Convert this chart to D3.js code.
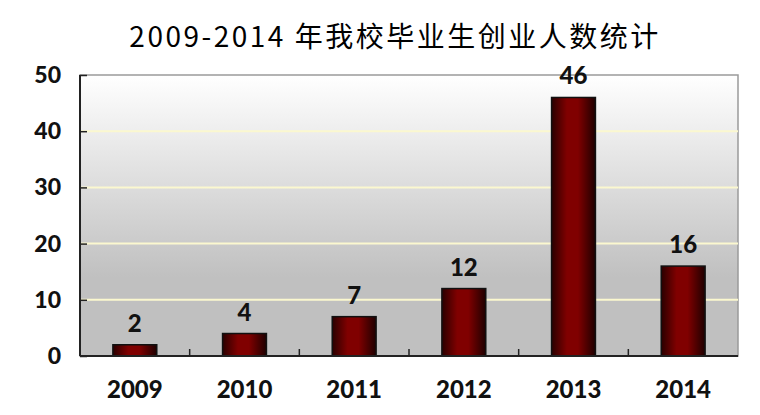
<!DOCTYPE html>
<html>
<head>
<meta charset="utf-8">
<script src="https://cdn.jsdelivr.net/npm/d3@7/dist/d3.min.js"></script>
<style>
  body { margin: 0; background: #fff; }
</style>
</head>
<body>
<div id="drawing"></div>
<script>
var width = 760;
var height = 415;
var margin = {top: 75, right: 22, bottom: 59, left: 80};

var titleText = "2009-2014 年我校毕业生创业人数统计";
var years = ["2009", "2010", "2011", "2012", "2013", "2014"];
var counts = [2, 4, 7, 12, 46, 16];
var yTicks = [0, 10, 20, 30, 40, 50];

var plotW = width - margin.left - margin.right;
var plotH = height - margin.top - margin.bottom;

var svg = d3.select("#drawing").append("svg")
  .attr("width", width)
  .attr("height", height);

var defs = svg.append("defs");

// background fade: white at top, grey lower down
var bg = defs.append("linearGradient")
  .attr("id", "bgGrad")
  .attr("x1", 0).attr("y1", 0).attr("x2", 0).attr("y2", 1);
bg.append("stop").attr("offset", "0%").attr("stop-color", "#ffffff");
bg.append("stop").attr("offset", "72%").attr("stop-color", "#c0c0c0");
bg.append("stop").attr("offset", "100%").attr("stop-color", "#c0c0c0");

// cylinder look for the bars
var barGrad = defs.append("linearGradient")
  .attr("id", "barGrad")
  .attr("x1", 0).attr("y1", 0).attr("x2", 1).attr("y2", 0);
barGrad.append("stop").attr("offset", "0%").attr("stop-color", "#2a0000");
barGrad.append("stop").attr("offset", "35%").attr("stop-color", "#800000");
barGrad.append("stop").attr("offset", "60%").attr("stop-color", "#800000");
barGrad.append("stop").attr("offset", "100%").attr("stop-color", "#1e0000");

svg.append("text")
  .attr("x", 395)
  .attr("y", 47)
  .attr("text-anchor", "middle")
  .style("font-family", "'Noto Sans CJK SC', 'Noto Sans', sans-serif")
  .style("font-size", "28px")
  .style("letter-spacing", "2.5px")
  .style("fill", "#000")
  .text(titleText);

var g = svg.append("g")
  .attr("transform", `translate(${margin.left}, ${margin.top})`);

var xScale = d3.scaleBand()
  .domain(years)
  .range([0, plotW])
  .paddingInner(0.6)
  .paddingOuter(0.3);

var yScale = d3.scaleLinear()
  .domain([0, 50])
  .range([plotH, 0]);

g.append("rect")
  .attr("width", plotW)
  .attr("height", plotH)
  .attr("fill", "url(#bgGrad)")
  .attr("stroke", "#9a9a9a")
  .attr("stroke-width", 1.5);

// grid lines
g.selectAll(".grid")
  .data(yTicks.filter(d => d > 0 && d < 50))
  .enter().append("line")
  .attr("class", "grid")
  .attr("x1", 0)
  .attr("x2", plotW)
  .attr("y1", d => yScale(d))
  .attr("y2", d => yScale(d))
  .attr("stroke", "#fbf8cf")
  .attr("stroke-width", 2);

// y axis with ticks pointing inward
var yAxis = g.append("g")
  .call(d3.axisRight(yScale).tickValues(yTicks).tickSize(7).tickFormat(""));
yAxis.select(".domain").remove();
yAxis.selectAll(".tick line").attr("stroke", "#222").attr("stroke-width", 1.5);

g.append("line")
  .attr("x1", 0).attr("x2", 0)
  .attr("y1", 0).attr("y2", plotH)
  .attr("stroke", "#222")
  .attr("stroke-width", 2);

g.selectAll(".ylab")
  .data(yTicks)
  .enter().append("text")
  .attr("class", "ylab")
  .attr("x", -19)
  .attr("y", d => yScale(d) + 8)
  .attr("text-anchor", "end")
  .style("font-family", "Lato, 'Liberation Sans', sans-serif")
  .style("font-weight", "900")
  .style("font-size", "23px")
  .style("fill", "#111")
  .text(d => d);

// bars
g.selectAll(".bar")
  .data(counts)
  .enter().append("rect")
  .attr("class", "bar")
  .attr("x", (d, i) => xScale(years[i]))
  .attr("y", d => yScale(d))
  .attr("width", xScale.bandwidth())
  .attr("height", d => plotH - yScale(d))
  .attr("fill", "url(#barGrad)")
  .attr("stroke", "#111")
  .attr("stroke-width", 1.5);

g.selectAll(".val")
  .data(counts)
  .enter().append("text")
  .attr("class", "val")
  .attr("x", (d, i) => xScale(years[i]) + xScale.bandwidth() / 2)
  .attr("y", d => yScale(d) - 13)
  .attr("text-anchor", "middle")
  .style("font-family", "Lato, 'Liberation Sans', sans-serif")
  .style("font-weight", "900")
  .style("font-size", "24px")
  .style("fill", "#111")
  .text(d => d);

// bottom axis, ticks between categories pointing up
var bounds = d3.range(1, years.length).map(i => i * plotW / years.length);
g.selectAll(".xtick")
  .data(bounds)
  .enter().append("line")
  .attr("x1", d => d).attr("x2", d => d)
  .attr("y1", plotH).attr("y2", plotH - 7)
  .attr("stroke", "#222")
  .attr("stroke-width", 1.5);

g.append("line")
  .attr("x1", 0).attr("x2", plotW)
  .attr("y1", plotH).attr("y2", plotH)
  .attr("stroke", "#222")
  .attr("stroke-width", 2);

g.selectAll(".xlab")
  .data(years)
  .enter().append("text")
  .attr("class", "xlab")
  .attr("x", d => xScale(d) + xScale.bandwidth() / 2)
  .attr("y", plotH + 42)
  .attr("text-anchor", "middle")
  .style("font-family", "Lato, 'Liberation Sans', sans-serif")
  .style("font-weight", "900")
  .style("font-size", "24px")
  .style("fill", "#111")
  .text(d => d);
</script>
</body>
</html>
